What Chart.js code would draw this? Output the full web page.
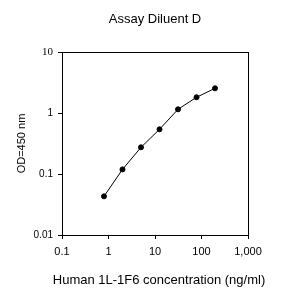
<!DOCTYPE html>
<html>
<head>
<meta charset="utf-8">
<script src="https://cdn.jsdelivr.net/npm/chart.js@4"></script>
<style>
  html, body { margin: 0; padding: 0; background: #fff; }
  #wrap { width: 291px; height: 294px; }
</style>
</head>
<body>
<div id="wrap"><canvas id="curve"></canvas></div>
<script>
// concentration (ng/ml) and OD
var conc = [0.8, 2, 5, 12.5, 31.25, 78.13, 195.3];
var od = [0.043, 0.119, 0.274, 0.54, 1.15, 1.81, 2.54];
var xTicks = [0.1, 1, 10, 100, 1000];
var yTicks = [0.01, 0.1, 1, 10];
var xTitle = 'Human 1L-1F6 concentration (ng/ml)';

var sans = '"Liberation Sans", Arial, sans-serif';

/* marco alrededor del área, título centrado y título del eje x sin recortar */
var boxPlugin = {
  id: 'box',
  afterLayout: function (chart) {
    var t = chart.titleBlock, a = chart.chartArea;
    if (t) { t.left = a.left; t.right = a.right; t.width = a.right - a.left; }
  },
  afterDraw: function (chart) {
    var a = chart.chartArea, ctx = chart.ctx;
    ctx.save();
    ctx.strokeStyle = '#000';
    ctx.lineWidth = 1;
    ctx.strokeRect(Math.round(a.left) + 0.5, Math.round(a.top) + 0.5,
      Math.round(a.right - a.left), Math.round(a.bottom - a.top));
    ctx.fillStyle = '#000';
    ctx.font = '13px ' + sans;
    ctx.textAlign = 'center';
    ctx.textBaseline = 'middle';
    ctx.fillText(xTitle, (a.left + a.right) / 2 + 4, a.bottom + 45);
    ctx.restore();
  }
};

var curve = new Chart(document.getElementById('curve'), {
  type: 'scatter',
  data: {
    datasets: [{
      data: conc.map(function (c, i) { return { x: c, y: od[i] }; }),
      showLine: true,
      borderColor: '#000',
      backgroundColor: '#000',
      borderWidth: 1,
      pointRadius: 2.5,
      pointHoverRadius: 2.5,
    }]
  },
  plugins: [boxPlugin],
  options: {
    responsive: true,
    maintainAspectRatio: false,
    animation: false,
    layout: { padding: { left: 0, right: 43, top: 0, bottom: 0 } },
    plugins: {
      legend: { display: false },
      tooltip: { enabled: false },
      title: {
        display: true,
        text: 'Assay Diluent D',
        color: '#000',
        font: { family: sans, size: 13, weight: 'normal', lineHeight: 1.2 },
        padding: { top: 12, bottom: 24.4 }
      }
    },
    scales: {
      x: {
        type: 'logarithmic',
        min: 0.1,
        max: 1000,
        afterBuildTicks: function (s) { s.ticks = xTicks.map(function (v) { return { value: v }; }); },
        afterFit: function (s) { s.height = 59; },
        ticks: {
          color: '#000', font: { family: sans, size: 11 }, padding: 6, maxRotation: 0,
          callback: function (v) { return v.toLocaleString('en-US'); }
        },
        grid: { drawOnChartArea: false, color: '#000', tickLength: 4 },
        border: { color: '#000' },
        title: { display: false }
      },
      y: {
        type: 'logarithmic',
        min: 0.01,
        max: 10,
        afterBuildTicks: function (s) { s.ticks = yTicks.map(function (v) { return { value: v }; }); },
        afterFit: function (s) { s.width = 62; },
        ticks: {
          color: '#000', padding: 5,
          font: function (c) {
            return c.tick && c.tick.value === 10
              ? { family: '"Liberation Serif", "Times New Roman", serif', size: 11 }
              : { family: sans, size: 10 };
          },
          callback: function (v) { return String(v); }
        },
        grid: { drawOnChartArea: false, color: '#000', tickLength: 4 },
        border: { color: '#000' },
        title: {
          display: true,
          text: 'OD=450 nm',
          color: '#000',
          font: { family: sans, size: 11 },
          padding: { top: 15, bottom: 0 }
        }
      }
    }
  }
});
</script>
</body>
</html>
